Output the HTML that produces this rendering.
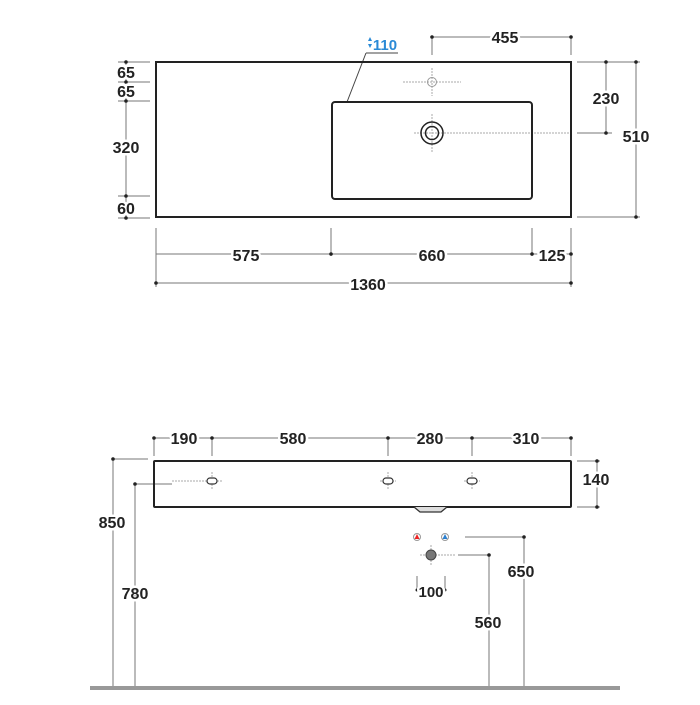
<!DOCTYPE html>
<html><head><meta charset="utf-8"><style>
html,body{margin:0;padding:0;background:#fff}
svg text{font-family:"Liberation Sans",sans-serif;font-size:16px;font-weight:bold;fill:#222;text-anchor:middle;stroke:#fff;stroke-width:5px;paint-order:stroke;stroke-linejoin:round}
</style></head><body>
<svg width="700" height="700" viewBox="0 0 700 700" xmlns="http://www.w3.org/2000/svg">
<g stroke="#777" stroke-width="1" fill="none">
<line x1="126" y1="62" x2="126" y2="218"/>
<line x1="118" y1="62" x2="150" y2="62"/><line x1="118" y1="82" x2="150" y2="82"/>
<line x1="118" y1="101" x2="150" y2="101"/><line x1="118" y1="196" x2="150" y2="196"/>
<line x1="118" y1="218" x2="150" y2="218"/>
<line x1="432" y1="37" x2="432" y2="55"/><line x1="432" y1="37" x2="571" y2="37"/><line x1="571" y1="37" x2="571" y2="55"/>
<line x1="577" y1="62" x2="640" y2="62"/><line x1="577" y1="217" x2="640" y2="217"/>
<line x1="606" y1="62" x2="606" y2="133"/><line x1="577" y1="133" x2="612" y2="133"/>
<line x1="636" y1="62" x2="636" y2="217"/>
<line x1="156" y1="228" x2="156" y2="287"/><line x1="331" y1="228" x2="331" y2="256"/>
<line x1="532" y1="228" x2="532" y2="256"/><line x1="571" y1="228" x2="571" y2="287"/>
<line x1="156" y1="254" x2="571" y2="254"/><line x1="156" y1="283" x2="571" y2="283"/>
<line x1="347" y1="102" x2="366" y2="53" stroke="#444"/><line x1="366" y1="53" x2="398" y2="53" stroke="#444"/>
<line x1="154" y1="438" x2="571" y2="438"/>
<line x1="154" y1="438" x2="154" y2="456"/><line x1="212" y1="438" x2="212" y2="456"/>
<line x1="388" y1="438" x2="388" y2="456"/><line x1="472" y1="438" x2="472" y2="456"/><line x1="571" y1="438" x2="571" y2="456"/>
<line x1="113" y1="459" x2="113" y2="688"/><line x1="113" y1="459" x2="148" y2="459"/>
<line x1="135" y1="484" x2="135" y2="688"/><line x1="135" y1="484" x2="172" y2="484"/>
<line x1="577" y1="461" x2="600" y2="461"/><line x1="577" y1="507" x2="600" y2="507"/>
<line x1="597" y1="461" x2="597" y2="507"/>
<line x1="465" y1="537" x2="524" y2="537"/><line x1="524" y1="537" x2="524" y2="688"/>
<line x1="458" y1="555" x2="489" y2="555"/><line x1="489" y1="555" x2="489" y2="688"/>
<line x1="417" y1="576" x2="417" y2="590"/><line x1="445" y1="576" x2="445" y2="590"/>
</g>
<g stroke="#aaa" stroke-width="1" stroke-dasharray="2,1" fill="none">
<line x1="403" y1="82" x2="461" y2="82"/><line x1="432" y1="68" x2="432" y2="96"/>
<line x1="414" y1="133" x2="571" y2="133"/><line x1="432" y1="114" x2="432" y2="152"/>
<line x1="172" y1="481" x2="222" y2="481"/><line x1="212" y1="472" x2="212" y2="490"/>
<line x1="380" y1="481" x2="396" y2="481"/><line x1="388" y1="472" x2="388" y2="490"/>
<line x1="464" y1="481" x2="480" y2="481"/><line x1="472" y1="472" x2="472" y2="490"/>
<line x1="420" y1="555" x2="455" y2="555"/><line x1="431" y1="545" x2="431" y2="565"/>
</g>
<g fill="#222">
<circle cx="126" cy="62" r="1.8"/><circle cx="126" cy="82" r="1.8"/><circle cx="126" cy="101" r="1.8"/><circle cx="126" cy="196" r="1.8"/><circle cx="126" cy="218" r="1.8"/>
<circle cx="432" cy="37" r="1.8"/><circle cx="571" cy="37" r="1.8"/>
<circle cx="606" cy="62" r="1.8"/><circle cx="606" cy="133" r="1.8"/><circle cx="636" cy="62" r="1.8"/><circle cx="636" cy="217" r="1.8"/>
<circle cx="331" cy="254" r="1.8"/><circle cx="532" cy="254" r="1.8"/><circle cx="571" cy="254" r="1.8"/>
<circle cx="156" cy="283" r="1.8"/><circle cx="571" cy="283" r="1.8"/>
<circle cx="154" cy="438" r="1.8"/><circle cx="212" cy="438" r="1.8"/><circle cx="388" cy="438" r="1.8"/><circle cx="472" cy="438" r="1.8"/><circle cx="571" cy="438" r="1.8"/>
<circle cx="113" cy="459" r="1.8"/><circle cx="135" cy="484" r="1.8"/>
<circle cx="597" cy="461" r="1.8"/><circle cx="597" cy="507" r="1.8"/>
<circle cx="524" cy="537" r="1.8"/><circle cx="489" cy="555" r="1.8"/>
<circle cx="417" cy="590" r="1.5"/><circle cx="445" cy="590" r="1.5"/>
</g>
<rect x="156" y="62" width="415" height="155" fill="none" stroke="#222" stroke-width="2"/>
<rect x="332" y="102" width="200" height="97" rx="3" fill="none" stroke="#222" stroke-width="2"/>
<circle cx="432" cy="82" r="4.5" fill="none" stroke="#999" stroke-width="1"/>
<circle cx="432" cy="133" r="11" fill="none" stroke="#222" stroke-width="1.5"/>
<circle cx="432" cy="133" r="6.5" fill="none" stroke="#222" stroke-width="1.5"/>
<rect x="154" y="461" width="417" height="46" rx="1" fill="none" stroke="#222" stroke-width="2"/>
<path d="M414 507 L420 512 L441 512 L447 507" fill="#ddd" stroke="#333" stroke-width="1.3"/>
<rect x="207" y="478" width="10" height="6" rx="3" fill="#fff" stroke="#333" stroke-width="1.2"/>
<rect x="383" y="478" width="10" height="6" rx="3" fill="#fff" stroke="#333" stroke-width="1.2"/>
<rect x="467" y="478" width="10" height="6" rx="3" fill="#fff" stroke="#333" stroke-width="1.2"/>
<circle cx="417" cy="537" r="3.5" fill="#fff" stroke="#999"/><path d="M414.5 539 L417 534 L419.5 539Z" fill="#e22"/>
<circle cx="445" cy="537" r="3.5" fill="#fff" stroke="#999"/><path d="M442.5 539 L445 534 L447.5 539Z" fill="#2a7fd0"/>
<circle cx="431" cy="555" r="5" fill="#777" stroke="#444"/>
<rect x="90" y="686" width="530" height="4" fill="#999"/>
<text x="126" y="78">65</text><text x="126" y="97">65</text><text x="126" y="153">320</text><text x="126" y="214">60</text>
<text x="505" y="43">455</text>
<text x="606" y="104">230</text><text x="636" y="142">510</text>
<text x="246" y="261">575</text><text x="432" y="261">660</text><text x="552" y="261">125</text>
<text x="368" y="290">1360</text>
<text x="385" y="50" style="fill:#2a8ad6;font-size:15px;stroke:none">110</text>
<path d="M368 41 L370 37 L372 41Z M368 44 L370 48 L372 44Z" fill="#2a8ad6"/>
<text x="184" y="444">190</text><text x="293" y="444">580</text><text x="430" y="444">280</text><text x="526" y="444">310</text>
<text x="596" y="485">140</text>
<text x="112" y="528">850</text><text x="135" y="599">780</text>
<text x="521" y="577">650</text><text x="488" y="628">560</text>
<text x="431" y="597" style="font-size:15px">100</text>
</svg>
</body></html>
